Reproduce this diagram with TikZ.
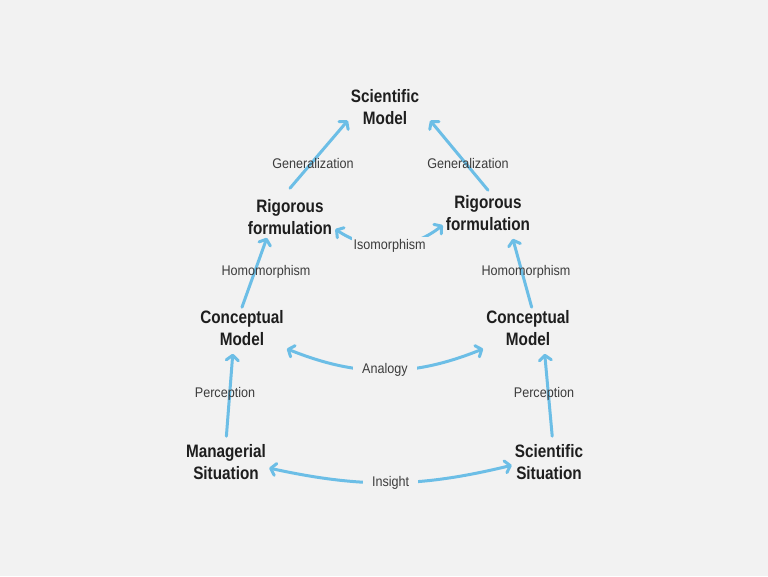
\documentclass[tikz,border=0pt]{standalone}
\usepackage{fontspec}
\setmainfont{Liberation Sans}[FakeStretch=0.85]
\newfontfamily\relfont{Liberation Sans}[FakeStretch=0.9]
\usetikzlibrary{arrows.meta,positioning}
\definecolor{mdbg}{RGB}{242,242,242}
\definecolor{mdblue}{RGB}{108,190,230}
\definecolor{mdtext}{RGB}{30,30,30}
\definecolor{mdgrey}{RGB}{60,60,60}
\tikzstyle{arrow} = [line width=3pt,>={Straight Barb[length=5pt,width=12pt,round]},->,color=mdblue,line cap=round]
\tikzstyle{stage} = [align=center, font=\fontsize{18}{22}\selectfont\bfseries, text=mdtext, inner sep=3pt]
\tikzstyle{relation} = [font=\relfont\fontsize{14}{16}\selectfont, text=mdgrey, inner sep=1pt]
\tikzstyle{cut} = [relation, fill=mdbg, inner sep=2pt]

\begin{document}
\begin{tikzpicture}[x=1pt,y=1pt]
    % Background
    \fill[mdbg] (0,0) rectangle (768,-576);
    \useasboundingbox (0,0) rectangle (768,-576);

    % Top
    \node[stage] (scimodel) at (385,-107) {Scientific\\Model};

    % Left branch - Managerial
    \node[stage] (rigleft) at (290,-217) {Rigorous\\formulation};
    \node[stage] (concleft) at (242,-328) {Conceptual\\Model};
    \node[stage] (managerial) at (226,-462) {Managerial\\Situation};

    % Right branch - Scientific
    \node[stage] (rigright) at (488,-213) {Rigorous\\formulation};
    \node[stage] (concright) at (528,-328) {Conceptual\\Model};
    \node[stage] (scisit) at (549,-462) {Scientific\\Situation};

    % Upward arrows
    \draw[arrow] ([yshift=8pt]rigleft.north) -- (scimodel.200);
    \draw[arrow] ([yshift=2pt]rigright.north) -- ([xshift=8pt]scimodel.-20);
    \draw[arrow] (concleft.north) -- (rigleft.222);
    \draw[arrow] (concright.80) -- ([yshift=-5pt]rigright.-40);
    \draw[arrow, shorten <=5pt, shorten >=5pt] (managerial.north) -- (concleft.247);
    \draw[arrow, shorten <=5pt, shorten >=5pt] (scisit.80) -- (concright.-52);

    % Cross arrows
    \draw[arrow, <->] (rigleft.-15) to[bend right=36] node[cut] {Isomorphism} (rigright.195);
    \draw[arrow, <->] (concleft.south east) to[bend right=22] node[cut, inner xsep=9pt] {Analogy} (concright.south west);
    \draw[arrow, <->] (managerial.-8) to[bend right=13] node[cut, inner xsep=9pt] {Insight} (scisit.185);

    % Labels
    \node[relation] (genleft) at (313,-163) {Generalization};
    \node[relation] (genright) at (468,-163) {Generalization};
    \node[relation] (homleft) at (266,-272) {Homomorphism};
    \node[relation] (homright) at (526,-272) {Homomorphism};
    \node[relation] (percleft) at (225,-394) {Perception};
    \node[relation] (percright) at (544,-394) {Perception};
\end{tikzpicture}
\end{document}
